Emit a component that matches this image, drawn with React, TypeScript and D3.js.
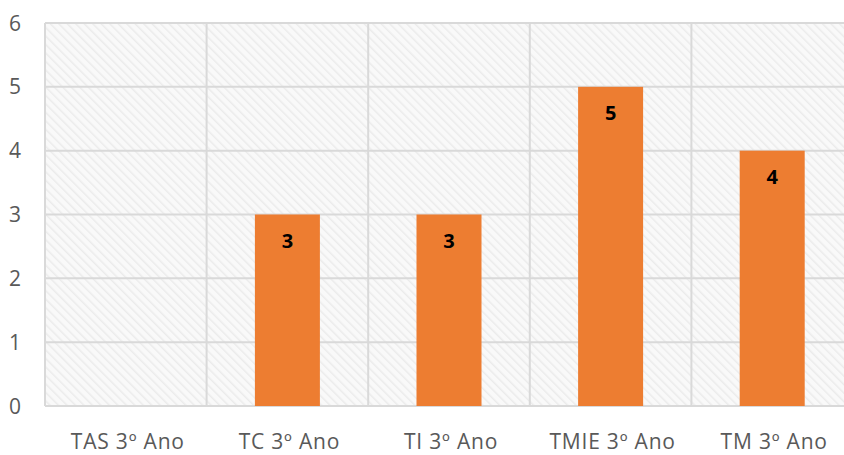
import React from "react";
import * as d3 from "d3";

const categories = ["TAS 3º Ano", "TC 3º Ano", "TI 3º Ano", "TMIE 3º Ano", "TM 3º Ano"];
const values = [0, 3, 3, 5, 4];
const yTicks = [0, 1, 2, 3, 4, 5, 6];

const W = 844, H = 455;
const left = 45, right = 853, top = 23, bottom = 406;

export default function App() {
  const x = d3.scaleBand<string>().domain(categories).range([left, right]);
  const y = d3.scaleLinear().domain([0, 6]).range([bottom, top]);
  const barW = 65;
  const font = "'Open Sans', sans-serif";
  return (
    <svg width={W} height={H} style={{ position: "absolute", left: 0, top: 0 }}>
      <defs>
        <pattern id="hatch" width="6" height="6" patternUnits="userSpaceOnUse" patternTransform="rotate(-45)">
          <rect width="6" height="6" fill="#f9f9f9" />
          <line x1="0" y1="0" x2="0" y2="6" stroke="#ebebeb" strokeWidth="3" />
        </pattern>
      </defs>
      <rect x={0} y={0} width={W} height={H} fill="#fff" />
      <rect x={left} y={top} width={right - left} height={bottom - top} fill="url(#hatch)" />
      {yTicks.map(t => (
        <g key={t}>
          <line x1={left} x2={right} y1={y(t)} y2={y(t)} stroke="#d9d9d9" strokeWidth={2} />
          <text x={15} y={y(t)} dy="0.36em" textAnchor="middle" fontSize={21} fill="#595959" fontFamily={font}>{t}</text>
        </g>
      ))}
      {[...categories.map(c => x(c)!), right].map((v, i) => (
        <line key={i} x1={v} x2={v} y1={top} y2={bottom} stroke="#d9d9d9" strokeWidth={2} />
      ))}
      {categories.map((c, i) => {
        const cx = x(c)! + x.bandwidth() / 2;
        return (
          <g key={c}>
            {values[i] > 0 && (
              <>
                <rect x={cx - barW / 2} y={y(values[i])} width={barW} height={bottom - y(values[i])} fill="#ed7d31" />
                <text x={cx} y={y(values[i]) + 26} dy="0.36em" textAnchor="middle" fontSize={20} fontWeight="bold" fill="#000" fontFamily={font}>{values[i]}</text>
              </>
            )}
            <text x={cx + 2} y={449} textAnchor="middle" fontSize={21} letterSpacing={0.8} fill="#595959" fontFamily={font}>{c}</text>
          </g>
        );
      })}
    </svg>
  );
}
